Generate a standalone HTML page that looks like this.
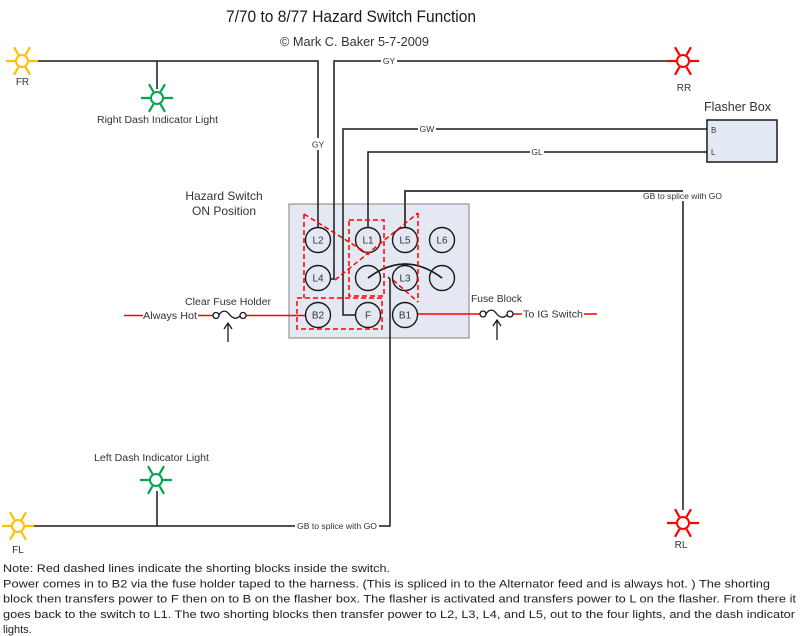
<!DOCTYPE html>
<html><head><meta charset="utf-8"><style>
html,body{margin:0;padding:0;background:#fff;}
svg{display:block;font-family:"Liberation Sans",Arial,sans-serif;}
</style></head><body>
<svg width="800" height="636" viewBox="0 0 800 636" xmlns="http://www.w3.org/2000/svg">
<defs>
<g id="light">
<path d="M7 0L16 0M3.5 6.06L8 13.86M-3.5 6.06L-8 13.86M-7 0L-16 0M-3.5 -6.06L-8 -13.86M3.5 -6.06L8 -13.86" stroke="currentColor" stroke-width="2.2" fill="none"/>
<circle r="6" fill="#fff" stroke="currentColor" stroke-width="2"/>
</g>
</defs>
<rect width="800" height="636" fill="#fff"/>

<!-- Title -->
<text x="226" y="22" font-size="17" fill="#1a1a1a" textLength="250" lengthAdjust="spacingAndGlyphs">7/70 to 8/77 Hazard Switch Function</text>
<text x="280" y="46" font-size="12.5" fill="#333" textLength="149" lengthAdjust="spacingAndGlyphs">© Mark C. Baker 5-7-2009</text>

<!-- Switch box -->
<rect x="289" y="204" width="180" height="134" fill="#e3e8f3" stroke="#808080" stroke-width="1"/>

<!-- Black wires -->
<g stroke="#1a1a1a" stroke-width="1.5" fill="none">
<path d="M38 61H318V228"/>
<path d="M667 61H334V279H330"/>
<path d="M708 129H343V315H356"/>
<path d="M708 152H368V228"/>
<path d="M683 510V201"/>
<path d="M683 191H405V228" stroke="#444" stroke-width="2"/>
<path d="M390 279V526H34"/>
<path d="M388 277L390 279"/>
<path d="M157 526V491"/>
<path d="M157 61V89"/>
<path d="M368 278Q405 250 442 278"/>
</g>

<!-- white gaps for wire labels -->
<g fill="#fff">
<rect x="381" y="56" width="16" height="10"/>
<rect x="310" y="138" width="16" height="12"/>
<rect x="418" y="123" width="18" height="12"/>
<rect x="530" y="146" width="14" height="12"/>
<rect x="295" y="520" width="84" height="12"/>
</g>

<!-- Red wires -->
<g stroke="#ff0000" stroke-width="1.5" fill="none">
<path d="M124 315.5H143"/>
<path d="M198 315.5H213"/>
<path d="M246 315.5H306"/>
<path d="M417 314H480"/>
<path d="M513 314H522"/>
<path d="M584 314H597"/>
</g>

<!-- Fuses -->
<g stroke="#1a1a1a" stroke-width="1.3" fill="#fff">
<circle cx="216" cy="315.5" r="3"/>
<circle cx="243" cy="315.5" r="3"/>
<path d="M219 315C222 310 226 310 229 314S236 320 240 316" fill="none"/>
<circle cx="483" cy="314" r="3"/>
<circle cx="510" cy="314" r="3"/>
<path d="M486 314C489 309 493 309 496 313S503 319 507 315" fill="none"/>
<path d="M228 342V323M224 329L228 323L232 329" fill="none"/>
<path d="M497 340V320M493 326L497 320L501 326" fill="none"/>
</g>

<!-- Switch terminals -->
<g stroke="#1a1a1a" stroke-width="1.4" fill="none">
<circle cx="318" cy="240" r="12.5"/>
<circle cx="368" cy="240" r="12.5"/>
<circle cx="405" cy="240" r="12.5"/>
<circle cx="442" cy="240" r="12.5"/>
<circle cx="318" cy="278" r="12.5"/>
<circle cx="368" cy="278" r="12.5"/>
<circle cx="405" cy="278" r="12.5"/>
<circle cx="442" cy="278" r="12.5"/>
<circle cx="318" cy="315" r="12.5"/>
<circle cx="368" cy="315" r="12.5"/>
<circle cx="405" cy="315" r="12.5"/>
</g>
<path d="M368 278Q405 250 442 278" stroke="#1a1a1a" stroke-width="1.5" fill="none"/>
<g font-size="10" fill="#333" text-anchor="middle">
<text x="318" y="243.5">L2</text>
<text x="368" y="243.5">L1</text>
<text x="405" y="243.5">L5</text>
<text x="442" y="243.5">L6</text>
<text x="318" y="281.5">L4</text>
<text x="405" y="281.5">L3</text>
<text x="318" y="318.5">B2</text>
<text x="368" y="318.5">F</text>
<text x="405" y="318.5">B1</text>
</g>

<!-- Red dashed shorting blocks -->
<g stroke="#ff0000" stroke-width="1.5" fill="none" stroke-dasharray="5 3">
<rect x="349" y="220" width="35" height="76"/>
<path d="M304 214V298"/>
<path d="M304 214L370 255"/>
<path d="M335 280L418 213"/>
<path d="M418 213V302"/>
<path d="M393 280L418 302"/>
<rect x="297" y="298" width="85" height="31"/>
</g>

<!-- Flasher box -->
<rect x="707" y="120" width="70" height="42" fill="#e4eaf5" stroke="#1a1a1a" stroke-width="1.5"/>
<text x="711" y="133" font-size="8" fill="#333">B</text>
<text x="711" y="155" font-size="8" fill="#333">L</text>
<text x="704" y="111" font-size="12.5" fill="#333" textLength="67" lengthAdjust="spacingAndGlyphs">Flasher Box</text>

<!-- Lights -->
<use href="#light" x="22" y="61" color="#ffc000"/>
<use href="#light" x="18" y="526" color="#ffc000"/>
<use href="#light" x="157" y="98" color="#00a550"/>
<use href="#light" x="156" y="480" color="#00a550"/>
<use href="#light" x="683" y="61" color="#ff0000"/>
<use href="#light" x="683" y="523" color="#ff0000"/>

<!-- Labels -->
<g fill="#333" font-size="10">
<text x="22.5" y="85" text-anchor="middle">FR</text>
<text x="18" y="553" text-anchor="middle">FL</text>
<text x="684" y="91" text-anchor="middle">RR</text>
<text x="681" y="548" text-anchor="middle">RL</text>
<text x="97" y="123" textLength="121" lengthAdjust="spacingAndGlyphs">Right Dash Indicator Light</text>
<text x="94" y="461" textLength="115" lengthAdjust="spacingAndGlyphs">Left Dash Indicator Light</text>
<text x="143" y="319" textLength="54" lengthAdjust="spacingAndGlyphs">Always Hot</text>
<text x="185" y="305" textLength="86" lengthAdjust="spacingAndGlyphs">Clear Fuse Holder</text>
<text x="471" y="302" textLength="51" lengthAdjust="spacingAndGlyphs">Fuse Block</text>
<text x="523" y="317.5" textLength="60" lengthAdjust="spacingAndGlyphs">To IG Switch</text>
</g>
<g fill="#333" font-size="12" text-anchor="middle">
<text x="224" y="200">Hazard Switch</text>
<text x="224" y="215">ON Position</text>
</g>
<g fill="#333" font-size="8.5" text-anchor="middle">
<text x="389" y="64">GY</text>
<text x="318" y="147.5">GY</text>
<text x="427" y="132">GW</text>
<text x="537" y="155">GL</text>
</g>
<g fill="#333" font-size="8">
<text x="643" y="199" textLength="79" lengthAdjust="spacingAndGlyphs">GB to splice with GO</text>
<text x="297" y="529" textLength="80" lengthAdjust="spacingAndGlyphs">GB to splice with GO</text>
</g>

<!-- Note -->
<g fill="#222" font-size="11">
<text x="3" y="572" textLength="387" lengthAdjust="spacingAndGlyphs">Note: Red dashed lines indicate the shorting blocks inside the switch.</text>
<text x="3" y="587.3" textLength="767" lengthAdjust="spacingAndGlyphs">Power comes in to B2 via the fuse holder taped to the harness. (This is spliced in to the Alternator feed and is always hot. ) The shorting</text>
<text x="3" y="602.6" textLength="793" lengthAdjust="spacingAndGlyphs">block then transfers power to F then on to B on the flasher box. The flasher is activated and transfers power to L on the flasher. From there it</text>
<text x="3" y="617.9" textLength="792" lengthAdjust="spacingAndGlyphs">goes back to the switch to L1. The two shorting blocks then transfer power to L2, L3, L4, and L5, out to the four lights, and the dash indicator</text>
<text x="3" y="633.2">lights.</text>
</g>
</svg>
</body></html>
